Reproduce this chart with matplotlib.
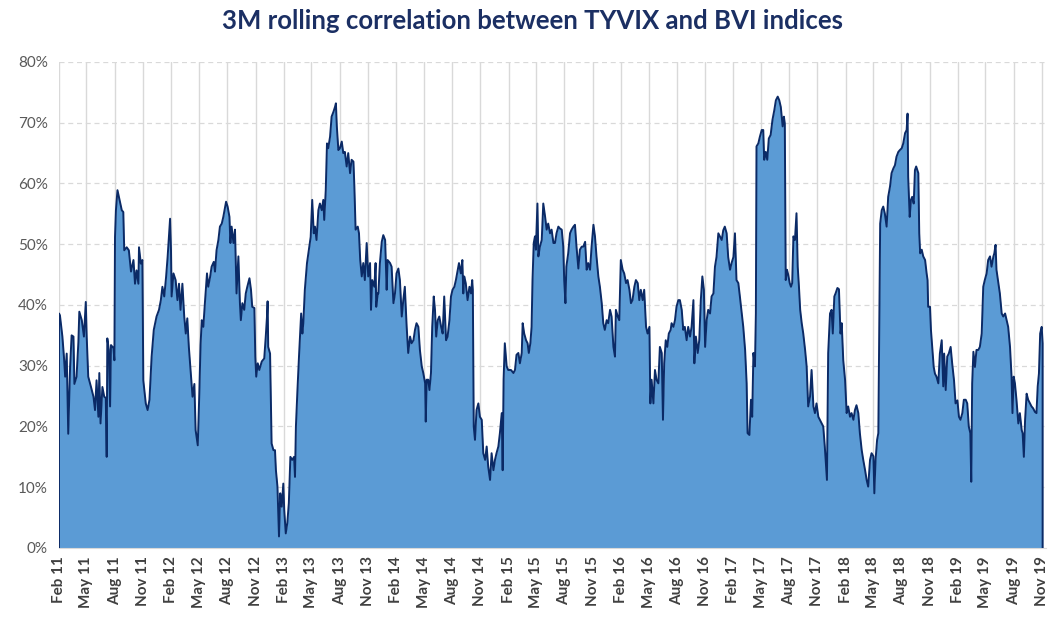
import numpy as np
import pandas as pd
import matplotlib
matplotlib.use('Agg')
import matplotlib.pyplot as plt
import matplotlib.dates as mdates
from matplotlib.ticker import FuncFormatter

plt.rcParams['font.family'] = ['Lato', 'DejaVu Sans']

start = pd.Timestamp('2011-02-01')
# days since start of series, 3M rolling correlation in %
days = [0, 3, 11, 16, 20, 25, 30, 36, 41, 47, 50, 57, 63, 66, 74, 81, 87, 90, 95, 104,
        112, 117, 122, 128, 131, 135, 141, 147, 152, 155, 157, 162, 166, 169, 177, 180, 182, 185, 190, 196,
        204, 209, 212, 220, 227, 234, 242, 247, 252, 258, 260, 266, 271, 274, 282, 288, 294, 301, 308, 317,
        325, 331, 336, 342, 348, 353, 361, 364, 366, 372, 379, 385, 390, 395, 401, 407, 412, 417, 422, 429,
        434, 440, 444, 451, 456, 460, 464, 469, 474, 481, 485, 491, 496, 503, 507, 512, 518, 523, 529, 534,
        543, 548, 554, 557, 561, 567, 572, 577, 583, 588, 591, 596, 602, 607, 612, 619, 624, 628, 635, 638,
        641, 646, 651, 659, 667, 672, 676, 678, 680, 686, 691, 697, 702, 705, 710, 715, 719, 724, 729, 732,
        737, 742, 747, 752, 758, 764, 767, 770, 775, 780, 787, 791, 794, 799, 806, 812, 818, 823, 828, 832,
        837, 843, 848, 854, 859, 862, 867, 871, 875, 881, 886, 892, 897, 900, 903, 908, 913, 919, 924, 929,
        935, 940, 946, 951, 957, 960, 964, 971, 975, 979, 984, 989, 994, 1000, 1005, 1011, 1014, 1018, 1025, 1029,
        1031, 1036, 1038, 1043, 1049, 1054, 1060, 1065, 1068, 1076, 1081, 1087, 1092, 1097, 1103, 1108, 1114, 1119, 1124, 1130,
        1135, 1141, 1146, 1152, 1157, 1162, 1168, 1173, 1179, 1184, 1190, 1192, 1195, 1200, 1204, 1209, 1213, 1218, 1222, 1226,
        1231, 1236, 1242, 1247, 1252, 1258, 1263, 1269, 1274, 1279, 1285, 1290, 1296, 1300, 1306, 1311, 1314, 1317, 1322, 1328,
        1334, 1339, 1343, 1345, 1348, 1352, 1357, 1363, 1368, 1374, 1379, 1385, 1390, 1395, 1401, 1406, 1412, 1417, 1422, 1428,
        1433, 1439, 1442, 1445, 1449, 1455, 1460, 1469, 1477, 1482, 1487, 1493, 1498, 1504, 1507, 1512, 1518, 1523, 1527, 1532,
        1536, 1539, 1543, 1547, 1550, 1555, 1558, 1563, 1569, 1574, 1580, 1585, 1590, 1596, 1601, 1607, 1612, 1617, 1623, 1628,
        1634, 1639, 1642, 1646, 1649, 1655, 1661, 1666, 1672, 1677, 1682, 1688, 1693, 1699, 1704, 1710, 1715, 1720, 1726, 1731,
        1737, 1742, 1747, 1753, 1758, 1764, 1769, 1774, 1780, 1785, 1791, 1796, 1802, 1807, 1810, 1816, 1821, 1826, 1832, 1837,
        1843, 1848, 1854, 1859, 1864, 1870, 1875, 1881, 1886, 1891, 1897, 1902, 1908, 1913, 1919, 1922, 1926, 1932, 1937, 1942,
        1948, 1953, 1959, 1963, 1967, 1972, 1977, 1982, 1988, 1991, 1997, 2002, 2007, 2013, 2018, 2024, 2029, 2034, 2040, 2045,
        2051, 2056, 2062, 2065, 2070, 2076, 2081, 2086, 2091, 2096, 2100, 2105, 2110, 2116, 2121, 2127, 2132, 2137, 2143, 2148,
        2154, 2159, 2164, 2170, 2175, 2181, 2186, 2192, 2197, 2202, 2208, 2213, 2219, 2224, 2230, 2235, 2238, 2244, 2249, 2253,
        2257, 2262, 2265, 2267, 2273, 2278, 2284, 2289, 2292, 2297, 2302, 2307, 2313, 2319, 2325, 2330, 2336, 2341, 2346, 2352,
        2356, 2359, 2362, 2366, 2370, 2375, 2379, 2383, 2387, 2392, 2397, 2401, 2405, 2409, 2414, 2419, 2425, 2430, 2435, 2441,
        2446, 2452, 2457, 2462, 2468, 2473, 2479, 2484, 2489, 2493, 2496, 2500, 2506, 2511, 2515, 2520, 2524, 2530, 2535, 2540,
        2544, 2549, 2555, 2560, 2565, 2571, 2576, 2582, 2587, 2592, 2598, 2603, 2609, 2614, 2620, 2625, 2630, 2636, 2641, 2647,
        2650, 2654, 2659, 2663, 2666, 2669, 2674, 2679, 2684, 2690, 2695, 2701, 2706, 2712, 2717, 2722, 2728, 2733, 2739, 2744,
        2750, 2755, 2758, 2760, 2765, 2769, 2773, 2778, 2782, 2786, 2793, 2796, 2799, 2804, 2809, 2815, 2820, 2823, 2825, 2831,
        2834, 2838, 2843, 2847, 2852, 2858, 2863, 2869, 2874, 2877, 2882, 2887, 2892, 2898, 2903, 2909, 2914, 2920, 2925, 2930,
        2936, 2941, 2947, 2952, 2957, 2962, 2965, 2968, 2972, 2977, 2982, 2988, 2993, 2999, 3004, 3009, 3015, 3020, 3026, 3031,
        3037, 3040, 3044, 3047, 3053, 3058, 3064, 3069, 3075, 3080, 3085, 3091, 3096, 3099, 3103, 3107, 3112, 3118, 3123, 3129,
        3132, 3136, 3140, 3145, 3150, 3156, 3161, 3166, 3172, 3177, 3181, 3185, 3189, 3194, 3197]
corr = [38.6, 38.3, 34.8, 31.5, 28.2, 32.0, 18.8, 29.8, 35.0, 34.8, 27.0, 28.2, 33.9, 38.9, 37.5, 34.8, 40.5, 34.8, 28.2, 26.5,
        24.9, 22.7, 27.6, 21.6, 28.8, 20.5, 26.5, 24.9, 24.7, 15.0, 34.5, 32.6, 23.3, 33.4, 32.9, 30.9, 51.2, 55.6, 58.9, 57.5,
        55.6, 55.3, 49.0, 49.5, 49.0, 45.5, 47.4, 43.5, 45.7, 43.5, 49.5, 46.8, 47.4, 27.6, 23.8, 22.7, 24.4, 31.5, 35.9, 38.1,
        39.2, 40.8, 43.0, 41.4, 44.6, 47.9, 54.2, 49.0, 41.4, 45.2, 44.1, 40.8, 43.5, 39.2, 43.5, 38.1, 35.3, 37.8, 33.1, 28.2,
        24.9, 27.0, 19.4, 16.9, 25.4, 33.4, 37.5, 36.4, 40.2, 45.2, 43.0, 44.6, 46.3, 47.1, 45.5, 49.0, 50.7, 52.9, 53.4, 54.5,
        57.0, 56.2, 54.5, 50.2, 52.9, 50.2, 52.4, 41.9, 48.0, 40.3, 37.5, 40.3, 39.2, 41.9, 43.0, 44.4, 42.5, 39.7, 39.5, 31.5,
        28.2, 30.4, 29.3, 30.7, 31.2, 34.8, 38.1, 40.6, 33.1, 32.0, 17.2, 16.1, 16.1, 12.8, 10.1, 1.9, 9.0, 6.8, 10.6, 6.3,
        2.4, 4.1, 7.4, 15.0, 14.5, 15.0, 11.7, 20.0, 26.0, 31.5, 38.6, 35.3, 37.0, 42.5, 46.9, 49.0, 51.2, 57.3, 51.8, 52.9,
        50.7, 55.6, 56.7, 55.6, 57.3, 54.0, 58.9, 66.6, 65.8, 67.7, 71.0, 71.8, 72.6, 73.2, 69.4, 65.5, 65.8, 66.9, 65.0, 65.2,
        62.8, 65.0, 61.7, 63.9, 63.6, 59.5, 52.4, 52.9, 51.8, 47.4, 44.7, 46.9, 44.1, 50.2, 44.7, 46.9, 39.2, 44.1, 43.0, 46.9,
        39.7, 41.9, 41.9, 46.9, 50.4, 51.5, 50.7, 42.5, 47.4, 46.9, 46.3, 40.3, 41.9, 45.2, 46.0, 44.1, 38.1, 40.8, 43.0, 36.4,
        32.1, 34.8, 33.7, 34.2, 35.9, 37.0, 36.4, 32.6, 29.9, 28.8, 27.1, 20.8, 27.7, 27.7, 26.0, 28.8, 36.4, 41.4, 39.2, 34.8,
        37.5, 38.1, 36.4, 35.3, 41.4, 34.2, 34.8, 37.5, 41.4, 42.5, 43.0, 44.1, 45.8, 46.9, 45.2, 47.4, 41.9, 44.7, 43.6, 40.8,
        43.0, 41.9, 44.1, 42.5, 20.0, 17.8, 22.7, 23.8, 21.6, 21.1, 15.6, 14.5, 16.7, 13.4, 11.2, 15.6, 12.8, 14.5, 15.6, 16.7,
        18.9, 22.2, 12.8, 27.7, 33.7, 29.9, 29.3, 29.3, 28.8, 29.3, 31.8, 32.1, 30.4, 32.1, 37.0, 35.3, 34.2, 33.7, 32.1, 33.7,
        36.4, 44.1, 50.2, 51.3, 49.1, 56.7, 48.0, 49.6, 50.7, 56.7, 54.5, 52.4, 53.4, 51.8, 52.4, 50.2, 50.2, 51.8, 52.9, 52.6,
        52.4, 49.6, 44.1, 40.3, 46.3, 48.5, 51.8, 52.4, 52.9, 53.2, 49.6, 46.0, 49.1, 49.6, 49.6, 50.4, 45.8, 46.9, 45.8, 49.6,
        53.2, 51.3, 48.0, 44.7, 43.0, 40.3, 37.0, 35.9, 37.5, 37.0, 39.2, 38.1, 33.1, 31.5, 39.2, 38.1, 37.5, 47.4, 45.8, 45.2,
        43.6, 44.1, 42.5, 40.3, 40.8, 43.0, 44.1, 43.6, 40.8, 42.5, 40.8, 42.5, 36.4, 35.3, 36.4, 23.8, 27.7, 23.8, 29.3, 27.7,
        27.1, 33.1, 32.1, 21.1, 30.4, 34.2, 33.1, 35.3, 35.9, 37.0, 36.4, 37.5, 39.7, 40.8, 40.8, 39.2, 35.9, 36.4, 34.2, 36.4,
        34.8, 36.4, 40.8, 30.4, 34.8, 32.1, 34.2, 40.8, 44.7, 42.5, 33.1, 37.5, 39.2, 38.6, 41.4, 41.9, 46.3, 47.9, 51.8, 51.3,
        50.7, 52.3, 52.9, 51.8, 47.9, 45.8, 46.9, 47.9, 51.8, 44.1, 43.6, 41.4, 38.6, 36.4, 32.6, 27.1, 18.9, 18.6, 24.4, 21.6,
        32.1, 29.9, 38.6, 66.1, 66.6, 67.7, 68.8, 68.8, 63.9, 65.2, 63.9, 67.4, 68.0, 70.5, 72.1, 73.7, 74.3, 73.7, 72.6, 69.4,
        71.0, 69.9, 44.1, 45.8, 45.0, 43.6, 43.0, 43.6, 51.3, 50.7, 55.1, 46.3, 43.0, 39.2, 37.0, 35.3, 32.6, 29.9, 23.3, 24.9,
        29.3, 23.3, 22.2, 23.8, 21.6, 21.1, 20.5, 20.0, 16.7, 13.4, 11.2, 32.1, 38.6, 39.2, 35.3, 41.4, 41.9, 42.8, 42.6, 35.3,
        37.0, 30.9, 27.6, 22.2, 23.3, 21.6, 22.2, 21.1, 22.7, 23.5, 22.2, 18.9, 16.1, 14.5, 12.8, 11.2, 10.1, 14.5, 15.6, 15.1,
        9.0, 14.5, 17.8, 18.9, 35.3, 53.4, 55.6, 56.2, 55.1, 52.9, 57.8, 59.5, 61.7, 62.5, 63.0, 64.4, 65.2, 65.5, 65.8, 66.6,
        68.3, 68.8, 71.5, 61.1, 54.5, 57.3, 57.8, 56.7, 62.2, 62.8, 61.7, 51.8, 48.5, 49.1, 48.0, 47.4, 45.2, 44.1, 39.7, 39.7,
        35.9, 33.1, 29.8, 28.7, 28.2, 27.1, 32.0, 34.2, 26.6, 32.0, 26.0, 31.5, 32.0, 33.1, 30.4, 27.6, 23.8, 24.3, 21.6, 21.1,
        22.2, 24.4, 24.4, 23.8, 20.0, 18.9, 10.9, 27.1, 32.3, 29.8, 32.6, 32.6, 33.1, 35.3, 43.0, 44.1, 45.2, 47.4, 48.0, 46.3,
        48.0, 48.5, 49.9, 45.8, 43.6, 41.9, 38.6, 38.1, 38.6, 37.5, 36.4, 33.1, 28.2, 22.2, 28.2, 27.1, 24.4, 20.5, 22.2, 19.4,
        18.9, 15.0, 21.1, 25.4, 24.4, 23.8, 23.3, 23.0, 22.4, 22.2, 26.6, 28.7, 35.3, 36.4, 33.7]

dates = mdates.date2num((start + pd.to_timedelta(days, unit='D')).to_pydatetime())
vals = np.array(corr) / 100.0

fig = plt.figure(figsize=(10.5, 6.18), dpi=100)
ax = fig.add_axes([0.0562, 0.1133, 0.94, 0.7864])

ax.fill_between(dates, 0, vals, color='#5B9BD5', linewidth=0, zorder=2)
# outline including the vertical edges at both ends
xl = np.r_[dates[0], dates, dates[-1]]
yl = np.r_[0, vals, 0]
ax.plot(xl, yl, color='#0B2A66', linewidth=1.4, zorder=3)

ax.set_ylim(0, 0.8)
ax.set_xlim(mdates.date2num(start.to_pydatetime()),
            mdates.date2num((start + pd.Timedelta(days=3208)).to_pydatetime()))
ax.set_yticks(np.arange(0, 0.81, 0.1))
ax.yaxis.set_major_formatter(FuncFormatter(lambda v, p: '{:.0f}%'.format(v * 100)))

ax.xaxis.set_major_locator(mdates.MonthLocator(bymonth=[2, 5, 8, 11]))
ax.xaxis.set_major_formatter(mdates.DateFormatter('%b %y'))
ax.tick_params(axis='x', length=0, labelsize=11, colors='#404040', pad=6, labelrotation=90)
ax.tick_params(axis='y', length=0, labelsize=11, colors='#595959', pad=8)
for lab in ax.get_xticklabels():
    lab.set_fontweight('bold')

ax.grid(axis='y', color='#D9D9D9', linestyle=(0, (4, 3)), linewidth=0.9, zorder=0)
ax.grid(axis='x', color='#D9D9D9', linestyle='-', linewidth=1.0, zorder=0)
ax.set_axisbelow(True)
for s in ['top', 'right', 'left']:
    ax.spines[s].set_visible(False)
ax.spines['bottom'].set_color('#D9D9D9')

fig.text(0.507, 0.966, '3M rolling correlation between TYVIX and BVI indices',
         ha='center', va='center', fontsize=18.5, fontweight='bold', color='#1B2F63')

fig.savefig('out.png', dpi=100)
